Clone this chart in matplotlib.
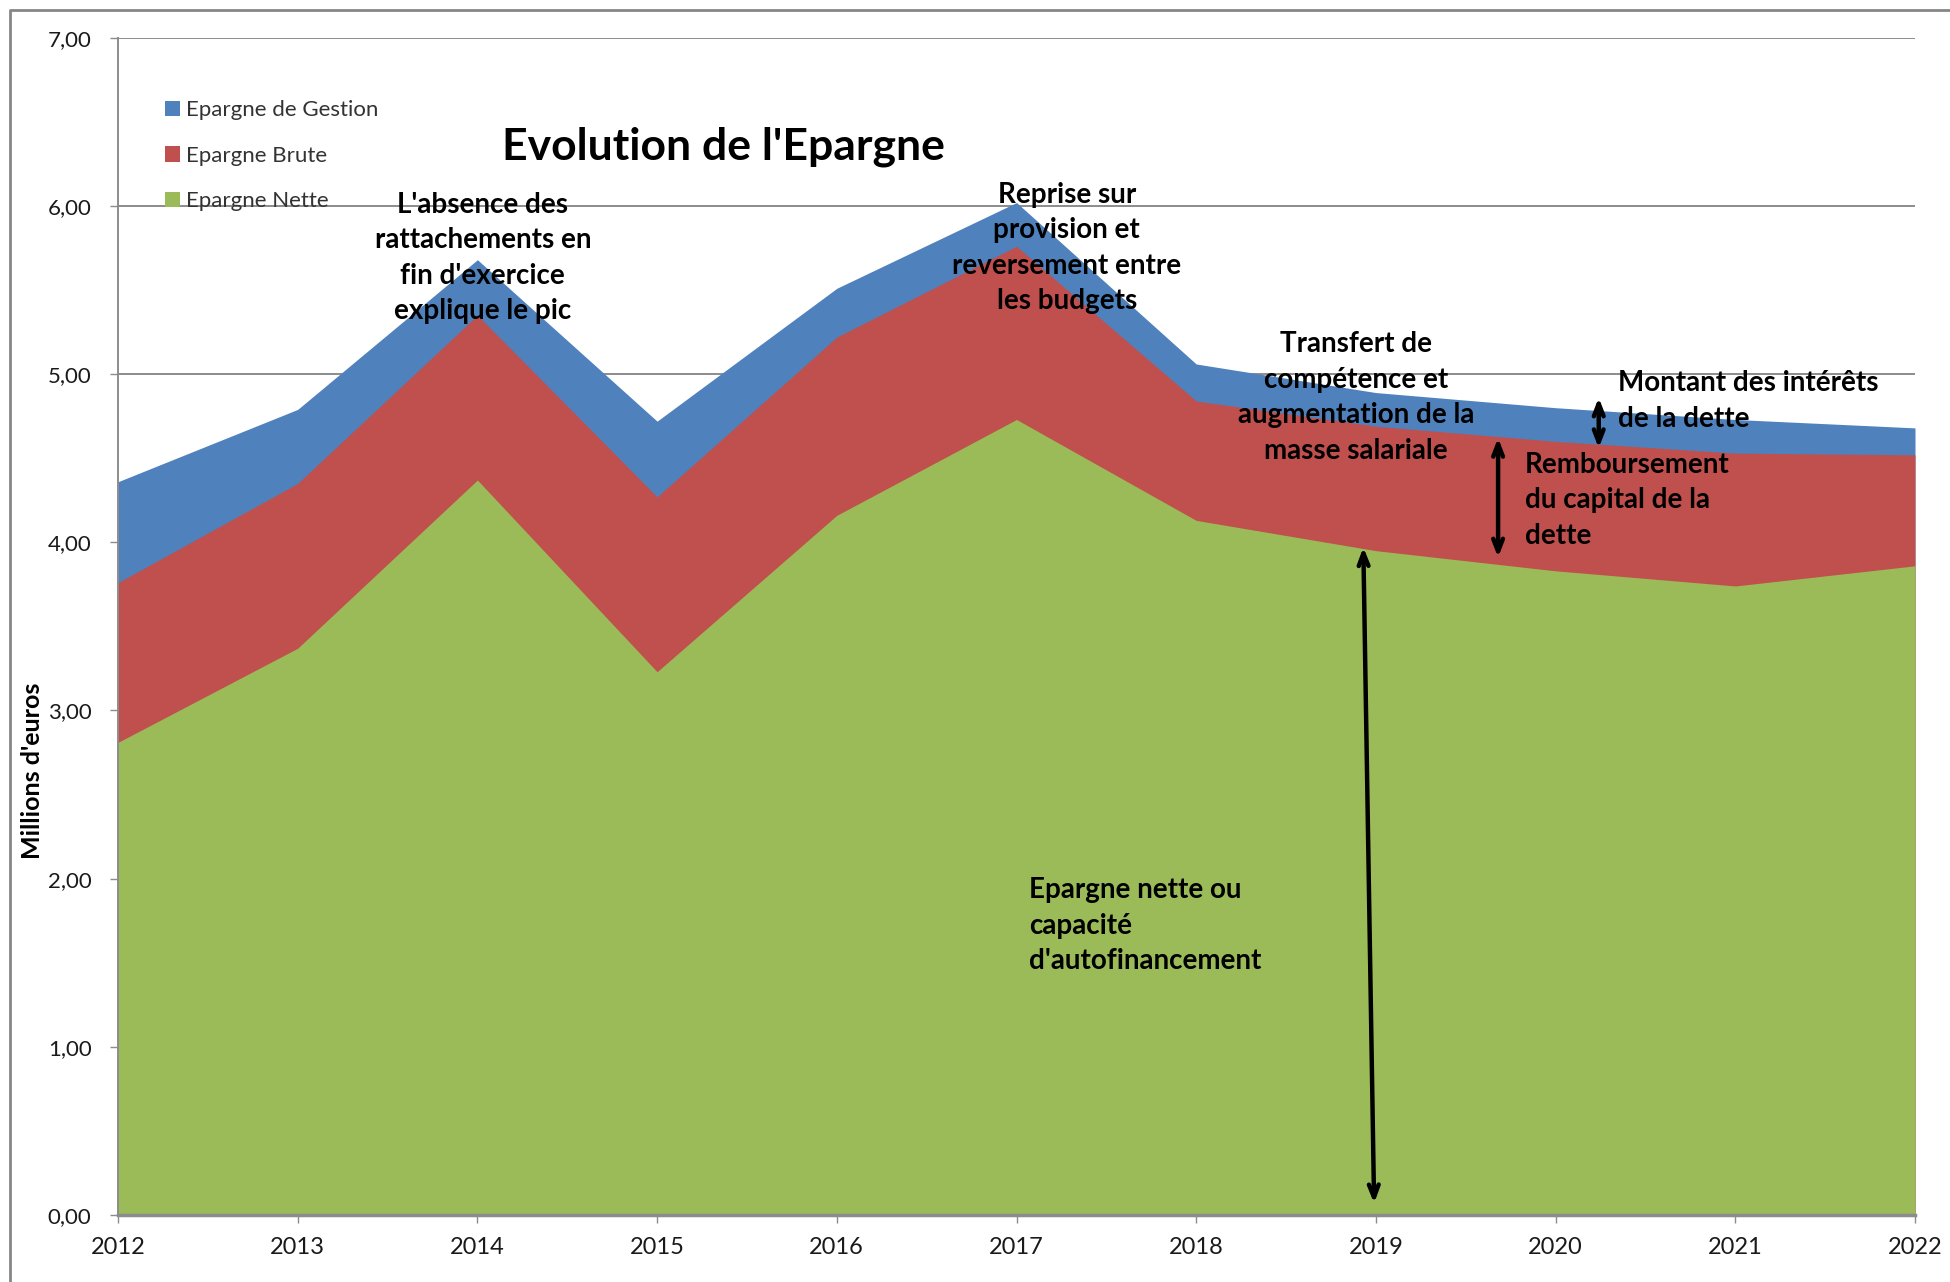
import numpy as np
import matplotlib.pyplot as plt
from matplotlib.patches import Patch
from matplotlib.lines import Line2D
from matplotlib.ticker import FuncFormatter

plt.rcParams['font.family'] = ['Lato', 'DejaVu Sans']

# --- Data (millions d'euros) ---
years = [2012, 2013, 2014, 2015, 2016, 2017, 2018, 2019, 2020, 2021, 2022]
epargne_gestion = [4.36, 4.79, 5.68, 4.72, 5.51, 6.02, 5.06, 4.89, 4.80, 4.73, 4.68]
epargne_brute = [3.76, 4.35, 5.35, 4.27, 5.22, 5.76, 4.84, 4.69, 4.60, 4.53, 4.52]
epargne_nette = [2.81, 3.37, 4.37, 3.23, 4.16, 4.73, 4.13, 3.95, 3.83, 3.74, 3.86]

series_labels = ['Epargne de Gestion', 'Epargne Brute', 'Epargne Nette']
colors = ['#4F81BD', '#C0504D', '#9BBB59']

fig = plt.figure(figsize=(19.5, 12.82), dpi=100)
ax = fig.add_axes([118 / 1950, 1 - 1215 / 1282, 1797 / 1950, (1215 - 37.7) / 1282])

# overlapping areas, drawn back to front
for vals, col in zip([epargne_gestion, epargne_brute, epargne_nette], colors):
    ax.fill_between(years, 0, vals, color=col, lw=0, zorder=2)

ax.set_xlim(2012, 2022)
ax.set_ylim(0, 7)
ax.set_xticks(years)
ax.set_yticks(np.arange(0, 8, 1))
ax.yaxis.set_major_formatter(FuncFormatter(lambda v, p: f'{v:.2f}'.replace('.', ',')))
ax.grid(axis='y', color='#8c8c8c', lw=1.4, zorder=0)
ax.set_axisbelow(True)
for s in ['top', 'right']:
    ax.spines[s].set_visible(False)
ax.spines['left'].set_color('#8c8c8c')
ax.spines['bottom'].set_color('#8c8c8c')
ax.spines['left'].set_linewidth(1.4)
ax.spines['bottom'].set_linewidth(2.5)
ax.spines['bottom'].set_zorder(3)
ax.tick_params(axis='x', length=6, width=1, color='#8c8c8c', pad=10, labelsize=17, labelcolor='#1a1a1a')
ax.tick_params(axis='y', length=6, width=1, color='#8c8c8c', pad=13, labelsize=16, labelcolor='#1a1a1a')

ax.set_ylabel("Millions d'euros", fontsize=18, fontweight='bold')
ax.yaxis.set_label_coords(-0.041, (1215 - 771) / 1177.3)

# legend
handles = [Patch(facecolor=c, edgecolor='none') for c in colors]
ax.legend(handles, series_labels, loc='upper left', bbox_to_anchor=(0.026, 0.947),
          frameon=False, fontsize=16, labelspacing=1.15, handlelength=0.7,
          handleheight=0.7, handletextpad=0.25, borderpad=0, borderaxespad=0,
          labelcolor='#333333')

ax.text(0.337, 0.907, "Evolution de l'Epargne", transform=ax.transAxes,
        ha='center', va='center', fontsize=32, fontweight='bold')

# annotations
txt_kw = dict(fontsize=20, fontweight='bold', linespacing=1.45, zorder=6)
ax.text(2014.03, 5.69, "L'absence des\nrattachements en\nfin d'exercice\nexplique le pic",
        ha='center', va='center', **txt_kw)
ax.text(2017.28, 5.75, "Reprise sur\nprovision et\nreversement entre\nles budgets",
        ha='center', va='center', **txt_kw)
ax.text(2018.89, 4.86, "Transfert de\ncompétence et\naugmentation de la\nmasse salariale",
        ha='center', va='center', **txt_kw)
ax.text(2020.35, 4.84, "Montant des intérêts\nde la dette", ha='left', va='center', **txt_kw)
ax.text(2019.83, 4.25, "Remboursement\ndu capital de la\ndette", ha='left', va='center', **txt_kw)
ax.text(2017.07, 1.72, "Epargne nette ou\ncapacité\nd'autofinancement", ha='left', va='center', **txt_kw)

arrow_kw = dict(arrowstyle='<->,head_length=0.9,head_width=0.35', color='black', lw=3.2,
                shrinkA=0, shrinkB=0)
ax.annotate('', xy=(2018.93, 3.97), xytext=(2018.99, 0.07), arrowprops=arrow_kw, zorder=7)
ax.annotate('', xy=(2019.68, 4.62), xytext=(2019.68, 3.91), arrowprops=arrow_kw, zorder=7)
ax.annotate('', xy=(2020.24, 4.86), xytext=(2020.24, 4.56), arrowprops=arrow_kw, zorder=7)

# outer chart frame (left and top edges visible)
fig.add_artist(Line2D([10 / 1950, 10 / 1950, 1], [0, 1 - 10 / 1282, 1 - 10 / 1282],
                      transform=fig.transFigure, color='#868686', lw=2))

fig.savefig('out.png', dpi=100)
